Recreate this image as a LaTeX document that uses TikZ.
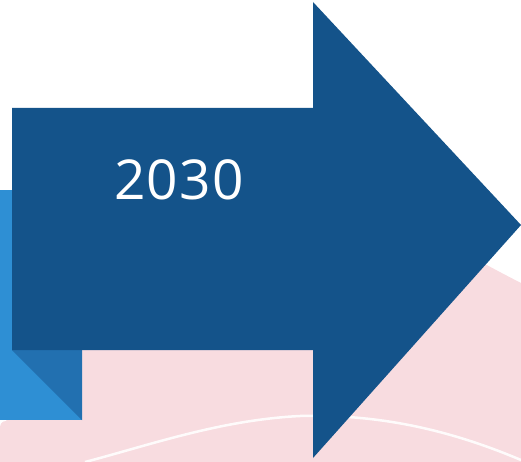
\documentclass[tikz,border=0pt]{standalone}
\usepackage{fontspec}
\setmainfont{Open Sans}[LetterSpace=2]
\definecolor{arrowblue}{RGB}{20,83,138}
\definecolor{lightblue}{RGB}{46,143,212}
\definecolor{foldblue}{RGB}{34,112,176}
\definecolor{pinkbg}{RGB}{248,220,224}
\tikzset{
  bgpink/.style={fill=pinkbg},
  sidebox/.style={fill=lightblue},
  foldtri/.style={fill=foldblue},
  bigarrow/.style={fill=arrowblue},
  arcline/.style={draw=white,line width=2.5pt,opacity=0.9},
  yearlabel/.style={text=white,font=\fontsize{55}{55}\selectfont,inner sep=0pt}
}
\begin{document}
\begin{tikzpicture}[x=1pt,y=-1pt]
\useasboundingbox (0,0) rectangle (521,462);
% pink background shape
\fill[bgpink] (0,462) -- (0,428) .. controls (0,424) and (2,421) .. (6,421) -- (90,330) -- (380,200)
  .. controls (440,240) and (480,262) .. (521,283) -- (521,462) -- cycle;
% white arc
\draw[arcline] (85,462) .. controls (150,445) and (220,420) .. (300,416)
  .. controls (380,414) and (450,430) .. (521,460);
% side box and fold
\fill[sidebox] (0,190) rectangle (82,420);
\fill[foldtri] (12,350) -- (82,350) -- (82,420) -- cycle;
% big arrow
\fill[bigarrow] (12,108) -- (313,108) -- (313,2) -- (521,225) -- (313,458) -- (313,350) -- (12,350) -- cycle;
\node[yearlabel,anchor=base] (year) at (179,200) {2030};
\end{tikzpicture}
\end{document}
